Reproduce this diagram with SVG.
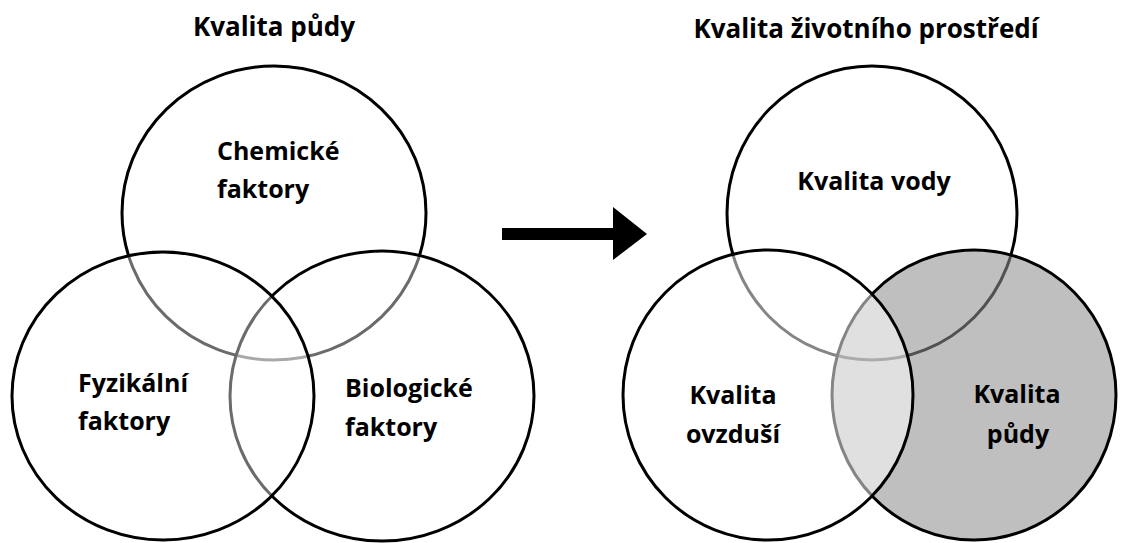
<svg xmlns="http://www.w3.org/2000/svg" width="1148" height="543" viewBox="0 0 1148 543">
<style>
.c{stroke:#000;stroke-width:3}
.w{fill:#fff}
.h{fill:#fff;fill-opacity:0.42}
.t{font-family:"Open Sans","Noto Sans","Liberation Sans",sans-serif;font-weight:bold;font-size:25px;fill:#000}
.tt{font-size:26px}
.m{text-anchor:middle}
</style>
<rect width="1148" height="543" fill="#fff"/>
<g id="title-left"><text class="t tt m" x="274" y="36">Kvalita půdy</text></g>
<g id="title-right"><text class="t tt m" x="866" y="38">Kvalita životního prostředí</text></g>

<g id="chem">
<ellipse class="c w" cx="274" cy="213" rx="152" ry="147"/>
<text class="t" x="217" y="160">Chemické</text>
<text class="t" x="217" y="198">faktory</text>
</g>
<g id="bio">
<ellipse class="c h" cx="382" cy="396" rx="152" ry="145"/>
<text class="t" x="345" y="397">Biologické</text>
<text class="t" x="345" y="436">faktory</text>
</g>
<g id="fyz">
<ellipse class="c h" cx="163" cy="396" rx="151" ry="144"/>
<text class="t" x="78" y="392">Fyzikální</text>
<text class="t" x="78" y="430">faktory</text>
</g>

<g id="voda">
<ellipse class="c w" cx="872" cy="213" rx="145" ry="147"/>
<text class="t m" x="874" y="190">Kvalita vody</text>
</g>
<g id="puda">
<ellipse cx="974" cy="395" rx="142" ry="145" fill="#8e8e8e" fill-opacity="0.57" stroke="#000" stroke-width="3"/>
<text class="t m" x="1017" y="403">Kvalita</text>
<text class="t m" x="1018" y="443">půdy</text>
</g>
<g id="ovzdusi">
<ellipse cx="768" cy="395" rx="145" ry="145" fill="#fff" fill-opacity="0.52" stroke="#000" stroke-width="3"/>
<text class="t m" x="733" y="404">Kvalita</text>
<text class="t m" x="733" y="443">ovzduší</text>
</g>

<g id="connectors">
<polygon points="502,228 613,228 613,207 647,234 613,260 613,240 502,240" fill="#000"/>
</g>
</svg>
